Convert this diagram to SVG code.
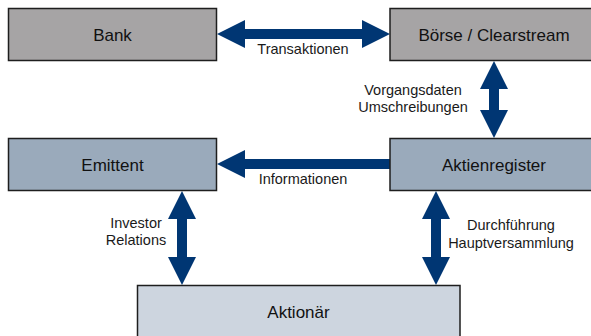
<svg xmlns="http://www.w3.org/2000/svg" width="591" height="336" viewBox="0 0 591 336">
<style>
.box{stroke:#1e1e1e;stroke-width:1.5}
.gray{fill:#a6a4a5}
.blue{fill:#9aaabb}
.light{fill:#cdd5df}
.nl{font-family:"Liberation Sans",Arial,sans-serif;font-size:17px;fill:#111;text-anchor:middle}
.el{font-family:"Liberation Sans",Arial,sans-serif;font-size:14.5px;fill:#1a1a1a;text-anchor:middle}
.arr{fill:#003673}
</style>
<rect width="591" height="336" fill="#fff"/>
<g id="connectors">
<polygon class="arr" points="217,34 245,20 245,29 362,29 362,20 390,34 362,48 362,39 245,39 245,48"/>
<polygon class="arr" points="217,164 245,150 245,159 390,159 390,169 245,169 245,178"/>
<polygon class="arr" points="494,61 508,89 499,89 499,110 508,110 494,138 480,110 489,110 489,89 480,89"/>
<polygon class="arr" points="182,191 196,219 187,219 187,257 196,257 182,285 168,257 177,257 177,219 168,219"/>
<polygon class="arr" points="436,191 450,219 441,219 441,257 450,257 436,285 422,257 431,257 431,219 422,219"/>
<text class="el" x="303" y="54">Transaktionen</text>
<text class="el" x="303" y="184">Informationen</text>
<text class="el" x="413" y="95">Vorgangsdaten</text>
<text class="el" x="413" y="112">Umschreibungen</text>
<text class="el" x="136" y="228">Investor</text>
<text class="el" x="136" y="245">Relations</text>
<text class="el" x="511" y="230">Durchführung</text>
<text class="el" x="511" y="248">Hauptversammlung</text>
</g>
<g id="bank"><rect class="box gray" x="8.5" y="8.5" width="208" height="52"/><text class="nl" x="112.5" y="40.5">Bank</text></g>
<g id="boerse"><rect class="box gray" x="390" y="8.5" width="208" height="52"/><text class="nl" x="494" y="40.5">Börse / Clearstream</text></g>
<g id="emittent"><rect class="box blue" x="8.5" y="138.5" width="208" height="52"/><text class="nl" x="112.5" y="170.5">Emittent</text></g>
<g id="aktienregister"><rect class="box blue" x="390" y="138.5" width="208" height="52"/><text class="nl" x="494" y="170.5">Aktienregister</text></g>
<g id="aktionaer"><rect class="box light" x="137.5" y="285.5" width="322.5" height="52"/><text class="nl" x="298.5" y="317.5">Aktionär</text></g>
</svg>
